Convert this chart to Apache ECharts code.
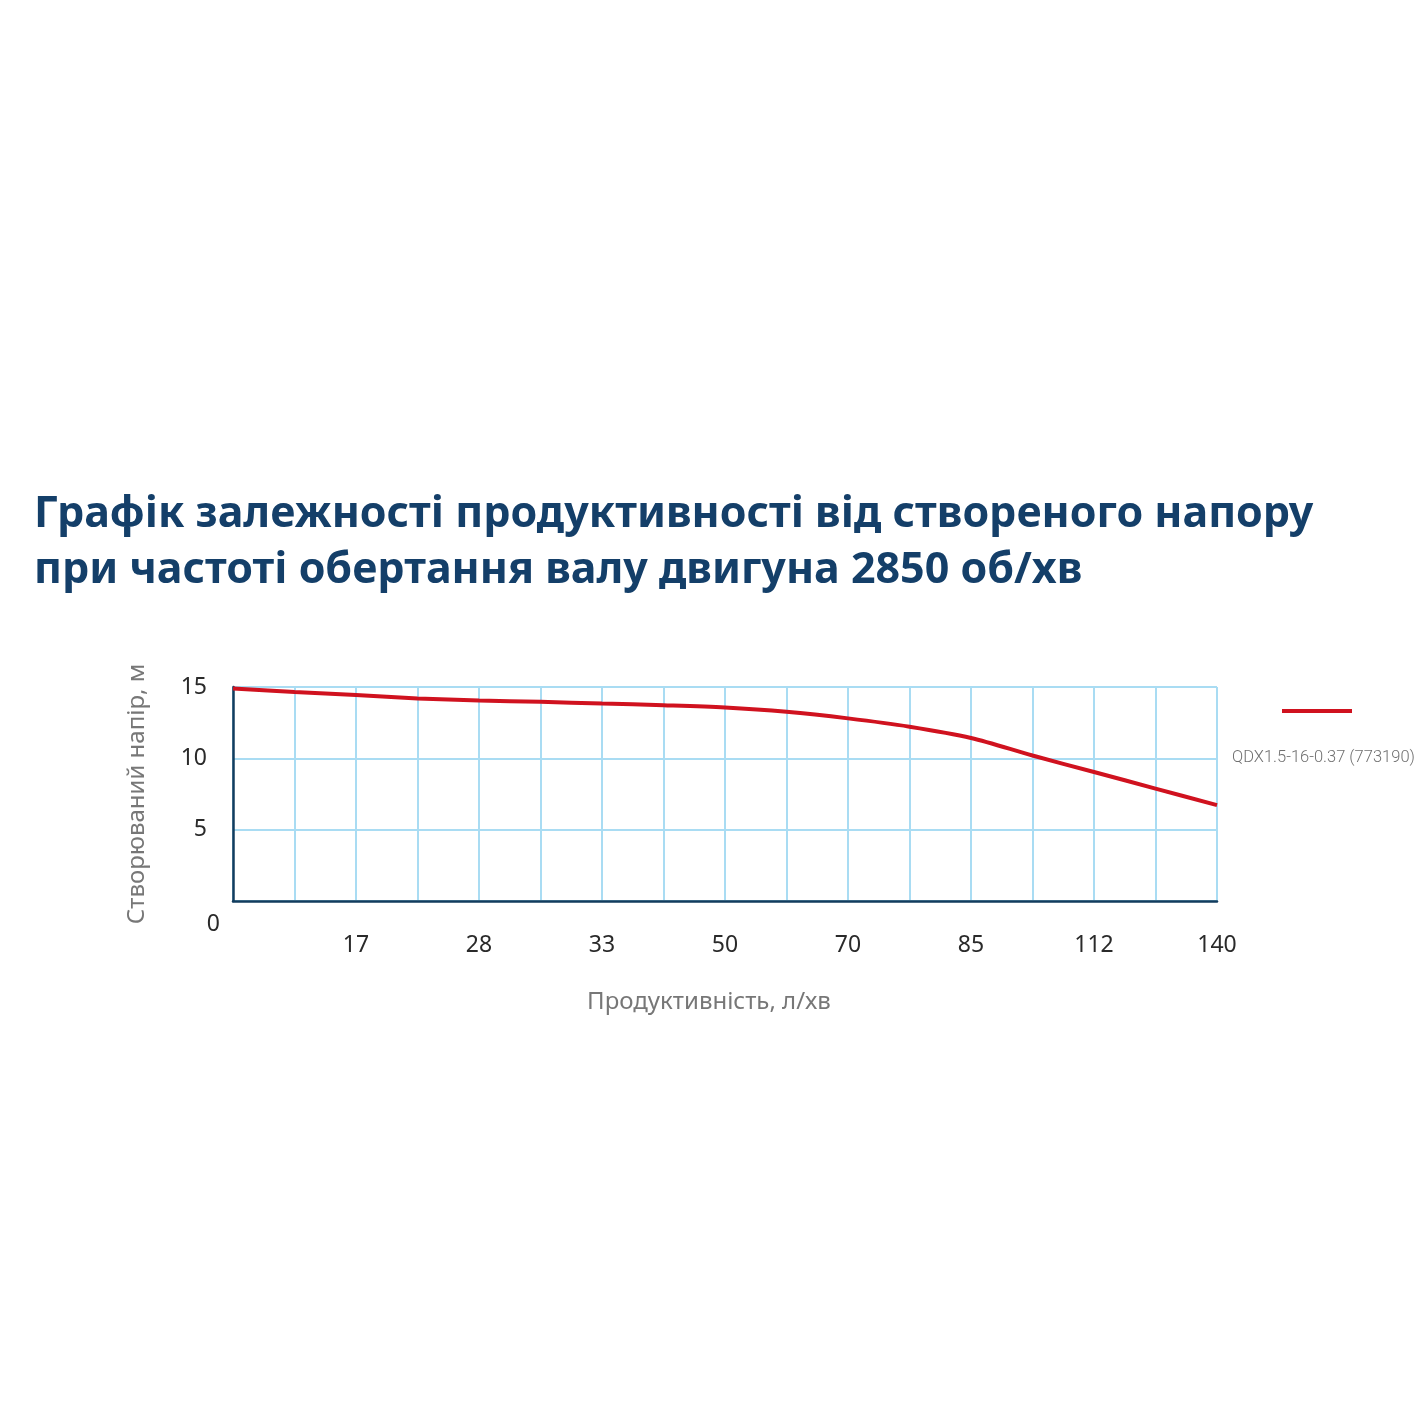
<!DOCTYPE html>
<html>
<head>
<meta charset="utf-8">
<script src="https://cdn.jsdelivr.net/npm/echarts@6/dist/echarts.min.js"></script>
<style>
  html, body { margin: 0; padding: 0; background: #fff; }
  #chart { width: 1425px; height: 1425px; }
</style>
</head>
<body>
<div id="chart"></div>
<script>
var titleText = 'Графік залежності продуктивності від створеного напору\nпри частоті обертання валу двигуна 2850 об/хв'
var seriesName = 'QDX1.5-16-0.37 (773190)'
var xName = 'Продуктивність, л/хв'
var yName = 'Створюваний напір, м'

// flow, l/min (labels every second grid column)
var flowLabels = ['', '', '17', '', '28', '', '33', '', '50', '', '70', '', '85', '', '112', '', '140']
// head, m
var headValues = [14.9, 14.65, 14.44, 14.2, 14.05, 13.96, 13.84, 13.72, 13.56, 13.26, 12.8, 12.22, 11.43, 10.2, 9.04, 7.88, 6.72]
var yTicks = { min: 0, max: 15, interval: 5 }

var navy = '#123c5e'
var gridBlue = '#a9dcf3'
var red = '#d0121f'

var chart = echarts.init(document.getElementById('chart'))

chart.setOption({
  backgroundColor: '#ffffff',
  animation: false,
  title: {
    text: titleText,
    left: 29,
    top: 482,
    textStyle: {
      fontFamily: 'Noto Sans',
      fontWeight: 'bold',
      fontSize: 43,
      lineHeight: 56,
      color: '#143f69'
    }
  },
  legend: [
    {
      // line swatch only
      left: 1277,
      top: 704,
      itemWidth: 70,
      itemHeight: 4,
      icon: 'rect',
      formatter: function () { return '' },
      selectedMode: false,
      data: [seriesName]
    },
    {
      // name below the swatch
      left: 1222,
      top: 744,
      itemWidth: 0,
      itemHeight: 0,
      icon: 'none',
      selectedMode: false,
      textStyle: {
        fontFamily: 'Roboto',
        fontWeight: 300,
        fontSize: 16.5,
        color: '#707070'
      },
      data: [seriesName]
    }
  ],
  grid: {
    left: 233,
    right: 208,
    top: 687,
    bottom: 524
  },
  xAxis: {
    type: 'category',
    data: flowLabels,
    boundaryGap: false,
    name: xName,
    nameLocation: 'middle',
    nameGap: 89,
    nameTextStyle: {
      fontFamily: 'Noto Sans',
      fontSize: 24,
      color: '#777777',
      padding: [0, 32, 0, 0]
    },
    axisLine: { show: true, lineStyle: { color: navy, width: 2.5 } },
    axisTick: { show: false },
    axisLabel: {
      interval: 0,
      margin: 33,
      fontFamily: 'Noto Sans',
      fontSize: 23,
      color: '#2a2a2a'
    },
    splitLine: {
      show: true,
      interval: 0,
      lineStyle: { color: gridBlue, width: 2 }
    }
  },
  yAxis: {
    type: 'value',
    min: yTicks.min,
    max: yTicks.max,
    interval: yTicks.interval,
    name: yName,
    nameLocation: 'middle',
    nameGap: 84,
    nameTextStyle: {
      fontFamily: 'Noto Sans',
      fontSize: 24,
      color: '#777777'
    },
    axisLine: { show: true, lineStyle: { color: navy, width: 2.5 } },
    axisTick: { show: false },
    axisLabel: {
      margin: 26,
      fontFamily: 'Noto Sans',
      fontSize: 23,
      color: '#2a2a2a',
      formatter: function (v) { return v === 0 ? '{z|0}' : v },
      rich: {
        z: { padding: [46, -13, 0, 0], fontFamily: 'Noto Sans', fontSize: 23, color: '#2a2a2a' }
      }
    },
    splitLine: { show: true, lineStyle: { color: gridBlue, width: 2 } }
  },
  series: [
    {
      name: seriesName,
      type: 'line',
      data: headValues,
      smooth: 0.3,
      showSymbol: false,
      symbol: 'none',
      itemStyle: { color: red },
      lineStyle: { color: red, width: 4 },
      z: 5
    }
  ]
})
</script>
</body>
</html>
